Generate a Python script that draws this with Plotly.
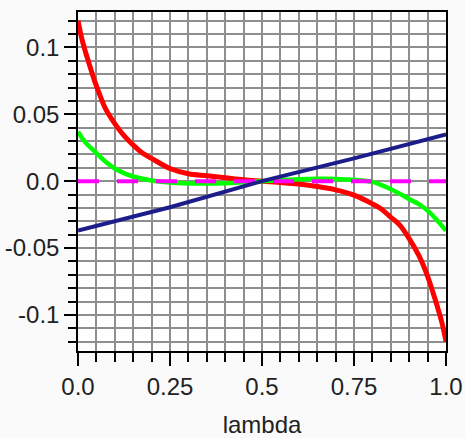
import numpy as np
import plotly.graph_objects as go

# ---- data ----
lam_red = [0, 0.01, 0.02, 0.03, 0.045, 0.06, 0.075, 0.1, 0.125, 0.15, 0.175, 0.2,
           0.25, 0.3, 0.35, 0.4, 0.45, 0.5, 0.55, 0.6, 0.65, 0.7, 0.75, 0.8,
           0.825, 0.85, 0.875, 0.9, 0.925, 0.94, 0.955, 0.97, 0.98, 0.99, 1.0]
val_red = [0.120, 0.107, 0.097, 0.088, 0.075, 0.064, 0.054, 0.043, 0.034, 0.027, 0.021, 0.017,
           0.0095, 0.0055, 0.004, 0.0025, 0.001, 0.0, -0.001, -0.0022, -0.004, -0.0065, -0.0105, -0.017,
           -0.021, -0.027, -0.033, -0.043, -0.055, -0.064, -0.075, -0.088, -0.097, -0.107, -0.120]

lam_green = [0, 0.02, 0.05, 0.075, 0.1, 0.125, 0.15, 0.2, 0.25, 0.3, 0.35, 0.4, 0.45, 0.5,
             0.55, 0.6, 0.65, 0.7, 0.75, 0.8, 0.85, 0.875, 0.9, 0.925, 0.95, 0.975, 1.0]
val_green = [0.037, 0.029, 0.021, 0.0145, 0.0095, 0.006, 0.0035, 0.0005, -0.001, -0.0017, -0.0018,
             -0.0015, -0.0008, 0.0, 0.0008, 0.0015, 0.0018, 0.0017, 0.001, -0.0005, -0.006,
             -0.0095, -0.0135, -0.0170, -0.022, -0.029, -0.037]

lam_navy = [0, 0.25, 0.5, 0.75, 1.0]
val_navy = [-0.037, -0.0195, 0.0, 0.017, 0.035]

lam_magenta = [0, 1.0]
val_magenta = [0.0, 0.0]

x_tickvals = [0, 0.25, 0.5, 0.75, 1.0]
x_ticktext = ["0.0", "0.25", "0.5", "0.75", "1.0"]
y_tickvals = [-0.1, -0.05, 0.0, 0.05, 0.1]
y_ticktext = ["-0.1", "-0.05", "0.0", "0.05", "0.1"]

fig = go.Figure()
fig.add_trace(go.Scatter(x=lam_red, y=val_red, mode="lines",
                         line=dict(color="#ff0000", width=5, shape="spline"), showlegend=False))
fig.add_trace(go.Scatter(x=lam_green, y=val_green, mode="lines",
                         line=dict(color="#00ff00", width=4.5, shape="spline"), showlegend=False))
fig.add_trace(go.Scatter(x=lam_magenta, y=val_magenta, mode="lines",
                         line=dict(color="#ff00ff", width=4, dash="21px,18px"), showlegend=False))
fig.add_trace(go.Scatter(x=lam_navy, y=val_navy, mode="lines",
                         line=dict(color="#1c1c8a", width=4), showlegend=False))

gridc = "#8e8e8e"
font = dict(family="Liberation Sans, Arial, sans-serif", size=24, color="#222222")

fig.update_layout(
    width=465, height=438,
    margin=dict(l=78, r=19, t=12, b=87),
    paper_bgcolor="#fafafa", plot_bgcolor="#ffffff",
    font=font,
    xaxis=dict(
        range=[0, 1], tickmode="array", tickvals=x_tickvals, ticktext=x_ticktext,
        ticks="outside", ticklen=13, tickwidth=1.5, tickcolor="#000000",
        showline=True, linecolor="#000000", linewidth=1.5, mirror=True,
        showgrid=True, gridcolor=gridc, gridwidth=1.5, zeroline=False, automargin=False,
        minor=dict(tickmode="array", tickvals=list(np.round(np.arange(0, 1.0001, 0.05), 4)),
                   ticks="outside", ticklen=9, tickwidth=1.5, tickcolor="#000000",
                   showgrid=True, gridcolor=gridc, gridwidth=1.5),
        title=dict(text="lambda", font=font, standoff=18),
        tickfont=font,
    ),
    yaxis=dict(
        range=[-0.127, 0.1265], tickmode="array", tickvals=y_tickvals, ticktext=y_ticktext,
        ticks="outside", ticklen=12, tickwidth=1.5, tickcolor="#000000",
        showline=True, linecolor="#000000", linewidth=1.5, mirror=True,
        showgrid=True, gridcolor=gridc, gridwidth=1.5, zeroline=False, automargin=False,
        minor=dict(tickmode="array", tickvals=list(np.round(np.arange(-0.12, 0.1201, 0.01), 4)),
                   ticks="outside", ticklen=8, tickwidth=1.5, tickcolor="#000000",
                   showgrid=True, gridcolor=gridc, gridwidth=1.5),
        tickfont=font,
    ),
)

fig.write_html("out.html")
